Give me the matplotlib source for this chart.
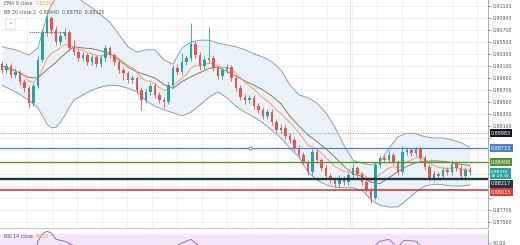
import numpy as np
import pandas as pd
import matplotlib
matplotlib.use("Agg")
import matplotlib.pyplot as plt
from matplotlib.transforms import blended_transform_factory

# velas: cierre, maximo, minimo (apertura = cierre anterior)
first_open = 0.9013
closes = [0.9003, 0.9010, 0.8995, 0.9000, 0.8983, 0.8973, 0.8948, 0.8977, 0.9020, 0.9065,
          0.9090, 0.9070, 0.9050, 0.9060, 0.9067, 0.9040, 0.9033, 0.9023, 0.9028, 0.9017,
          0.9025, 0.9013, 0.9023, 0.9040, 0.9028, 0.9017, 0.9003, 0.8998, 0.8987, 0.8990,
          0.8970, 0.8953, 0.8967, 0.8977, 0.8962, 0.8953, 0.8950, 0.8978, 0.9007, 0.9000,
          0.9017, 0.9023, 0.9047, 0.9028, 0.9010, 0.9020, 0.9023, 0.9007, 0.8993, 0.9003,
          0.9008, 0.8990, 0.8973, 0.8958, 0.8953, 0.8957, 0.8943, 0.8937, 0.8927, 0.8933,
          0.8917, 0.8903, 0.8907, 0.8893, 0.8887, 0.8873, 0.8862, 0.8850, 0.8833, 0.8867,
          0.8853, 0.8840, 0.8827, 0.8820, 0.8813, 0.8823, 0.8817, 0.8828, 0.8840, 0.8830,
          0.8817, 0.8803, 0.8790, 0.8845, 0.8857, 0.8853, 0.8862, 0.8850, 0.8833, 0.8867,
          0.8870, 0.8865, 0.8872, 0.8857, 0.8842, 0.8823, 0.8830, 0.8827, 0.8837, 0.8833,
          0.8847, 0.8840, 0.8827, 0.8837, 0.8833]
highs = [0.9018, 0.9015, 0.9015, 0.9006, 0.9004, 0.8988, 0.8977, 0.8981, 0.9026, 0.9072,
         0.9095, 0.9093, 0.9076, 0.9066, 0.9073, 0.9070, 0.9053, 0.9038, 0.9034, 0.9032,
         0.9030, 0.9029, 0.9028, 0.9045, 0.9044, 0.9032, 0.9021, 0.9008, 0.9002, 0.8995,
         0.8994, 0.8975, 0.8972, 0.8982, 0.8981, 0.8967, 0.8958, 0.8983, 0.9012, 0.9013,
         0.9032, 0.9028, 0.9082, 0.9052, 0.9033, 0.9026, 0.9075, 0.9028, 0.9012, 0.9008,
         0.9014, 0.9012, 0.8995, 0.8978, 0.8963, 0.8962, 0.8961, 0.8948, 0.8942, 0.8938,
         0.8938, 0.8921, 0.8913, 0.8911, 0.8898, 0.8891, 0.8878, 0.8866, 0.8854, 0.8873,
         0.8871, 0.8857, 0.8845, 0.8831, 0.8825, 0.8828, 0.8827, 0.8833, 0.8846, 0.8844,
         0.8834, 0.8821, 0.8807, 0.8850, 0.8862, 0.8862, 0.8870, 0.8866, 0.8854, 0.8877,
         0.8875, 0.8874, 0.8875, 0.8876, 0.8861, 0.8846, 0.8835, 0.8834, 0.8842, 0.8841,
         0.8853, 0.8851, 0.8845, 0.8842, 0.8841]
lows = [0.8998, 0.8998, 0.8990, 0.8990, 0.8978, 0.8967, 0.8940, 0.8944, 0.8974, 0.9016,
        0.9060, 0.9064, 0.9045, 0.9045, 0.9055, 0.9035, 0.9028, 0.9018, 0.9018, 0.9012,
        0.9012, 0.9008, 0.9008, 0.9018, 0.9023, 0.9012, 0.8998, 0.8987, 0.8982, 0.8982,
        0.8965, 0.8937, 0.8948, 0.8962, 0.8957, 0.8948, 0.8940, 0.8946, 0.8974, 0.8995,
        0.8995, 0.9012, 0.9018, 0.9023, 0.9004, 0.9005, 0.9015, 0.9002, 0.8988, 0.8988,
        0.8998, 0.8985, 0.8968, 0.8953, 0.8947, 0.8948, 0.8938, 0.8931, 0.8922, 0.8922,
        0.8912, 0.8898, 0.8898, 0.8888, 0.8882, 0.8868, 0.8857, 0.8845, 0.8828, 0.8829,
        0.8848, 0.8835, 0.8822, 0.8815, 0.8808, 0.8808, 0.8812, 0.8812, 0.8823, 0.8825,
        0.8812, 0.8798, 0.8782, 0.8786, 0.8840, 0.8848, 0.8848, 0.8845, 0.8828, 0.8829,
        0.8862, 0.8860, 0.8860, 0.8852, 0.8837, 0.8818, 0.8818, 0.8822, 0.8822, 0.8828,
        0.8828, 0.8835, 0.8822, 0.8822, 0.8828]

# bandas de bollinger
band_idx = [0, 3, 6, 8, 9, 10, 11, 12, 13, 14, 15, 16,
            18, 20, 22, 24, 26, 28, 30, 32, 34, 36, 38, 40, 42, 44, 46, 48, 50, 52, 54, 56,
            58, 60, 62, 64, 66, 68, 70, 72, 74, 76, 78, 80, 82, 84, 86, 88, 90, 92, 94, 96,
            98, 100, 102, 104]
band_upper = [0.9042, 0.9037, 0.9028, 0.9040, 0.9067, 0.9095, 0.9112, 0.9123, 0.9130, 0.9132, 0.9132, 0.9130,
              0.9117, 0.9107, 0.9095, 0.9083, 0.9062, 0.9042, 0.9033, 0.9037, 0.9037, 0.9020, 0.9013, 0.9040,
              0.9050, 0.9053, 0.9053, 0.9048, 0.9045, 0.9042, 0.9037, 0.9030, 0.9025, 0.9017, 0.9003, 0.8978,
              0.8962, 0.8957, 0.8948, 0.8932, 0.8908, 0.8878, 0.8853, 0.8848, 0.8845, 0.8850, 0.8873, 0.8892,
              0.8898, 0.8897, 0.8892, 0.8890, 0.8890, 0.8887, 0.8882, 0.8875]
band_mid = [0.9010, 0.9002, 0.8991, 0.8990, 0.8997, 0.9004, 0.9010, 0.9016, 0.9024, 0.9030, 0.9037, 0.9042,
            0.9040, 0.9039, 0.9035, 0.9031, 0.9020, 0.9008, 0.9000, 0.8995, 0.8990, 0.8979, 0.8973, 0.8984,
            0.8992, 0.8999, 0.9006, 0.9008, 0.9001, 0.8993, 0.8985, 0.8978, 0.8970, 0.8960, 0.8947, 0.8926,
            0.8910, 0.8895, 0.8884, 0.8872, 0.8858, 0.8843, 0.8830, 0.8826, 0.8816, 0.8814, 0.8824, 0.8834,
            0.8843, 0.8849, 0.8851, 0.8852, 0.8851, 0.8849, 0.8846, 0.8844]
band_lower = [0.8978, 0.8967, 0.8953, 0.8940, 0.8927, 0.8913, 0.8907, 0.8908, 0.8917, 0.8928, 0.8942, 0.8953,
              0.8962, 0.8970, 0.8975, 0.8978, 0.8977, 0.8973, 0.8967, 0.8952, 0.8943, 0.8937, 0.8932, 0.8927,
              0.8933, 0.8945, 0.8958, 0.8967, 0.8957, 0.8943, 0.8933, 0.8925, 0.8915, 0.8903, 0.8890, 0.8873,
              0.8858, 0.8833, 0.8820, 0.8812, 0.8808, 0.8807, 0.8807, 0.8803, 0.8787, 0.8778, 0.8775, 0.8775,
              0.8787, 0.8800, 0.8810, 0.8813, 0.8812, 0.8810, 0.8810, 0.8812]

rsi_idx = [0, 4, 7, 8, 9, 10, 11, 12, 14, 16, 18, 22, 30, 36, 38, 40, 42, 44, 48, 60,
           70, 80, 83, 84, 86, 88, 89, 90, 92, 94, 100, 102, 104]
rsi_val = [48, 40, 45, 62, 70, 73, 71, 64, 62, 57, 52, 52, 40, 40, 55, 60, 64, 56, 50, 35,
           38, 35, 58, 62, 64, 55, 62, 63, 62, 52, 55, 52, 46.23]

# niveles horizontales
dotted_level = 0.88983
blue_level = 0.88733
green_level = 0.88498
dark_level = 0.88217
red_level = 0.88033
old_level = 0.9067   # linea punteada roja arriba a la izquierda

price_ticks = [0.9110, 0.9090, 0.9070, 0.9050, 0.9030, 0.9010, 0.8990, 0.8970, 0.8950, 0.8930,
               0.8910, 0.8890, 0.8870, 0.8850, 0.8830, 0.8810, 0.8790, 0.8770, 0.8750]

UP = '#26a69a'
DOWN = '#ef5350'
GRIS = '#555555'
NARANJA = '#f59a4a'

W, H = 520, 245
fig = plt.figure(figsize=(W / 100, H / 100), dpi=100)
ax = fig.add_axes([0, 1 - 228 / H, 488 / W, 228 / H])
rax = fig.add_axes([0, 0, 488 / W, 15 / H])

n = len(closes)
idx = np.arange(n)
opens = [first_open] + closes[:-1]
o = np.array(opens)
c = np.array(closes)
colors = [UP if cc >= oo else DOWN for oo, cc in zip(o, c)]

# bandas
ax.fill_between(band_idx, band_lower, band_upper, color='#eaf2f8', lw=0, zorder=1)
ax.plot(band_idx, band_upper, color='#8aa2b4', lw=0.7, zorder=2)
ax.plot(band_idx, band_lower, color='#8aa2b4', lw=0.7, zorder=2)
ax.plot(band_idx, band_mid, color='#8c7b6e', lw=0.7, zorder=2)

ema = pd.Series(closes).ewm(span=9, adjust=False).mean()
ax.plot(idx, ema, color='#f5a06a', lw=0.7, zorder=3)

# velas
ax.vlines(idx, lows, highs, colors=colors, lw=0.6, zorder=4)
body = np.abs(c - o)
body[body < 0.00005] = 0.00005
ax.bar(idx, body, bottom=np.minimum(o, c), width=0.56, color=colors, lw=0, zorder=5)

# lineas horizontales
ax.axhline(dotted_level, color='#9aa0a6', lw=0.6, ls=(0, (1.5, 1.5)), zorder=3)
ax.axhline(blue_level, color='#4f7fc9', lw=0.9, zorder=6)
ax.axhline(green_level, color='#5e8f30', lw=1.0, zorder=6)
ax.axhline(dark_level, color='#1f3542', lw=1.7, zorder=6)
ax.axhline(red_level, color='#e0393b', lw=1.2, zorder=6)
ax.plot([6, 14], [old_level, old_level], color='#b5473f', lw=0.8, ls=(0, (1, 1)), zorder=6)
ax.plot([55.1], [blue_level], marker='o', ms=2.2, mfc='white', mec='#4f7fc9', mew=0.6, zorder=7)
ax.axvline(77.3, color='#b8bcc2', lw=0.5, ls=(0, (1.5, 1.5)), zorder=1)

ax.set_xlim(-0.444, 108)
ax.set_ylim(0.8740, 0.9120)
ax.set_xticks((np.arange(27, 488, 25) - 2) / 4.5)

# etiquetas de precio en el eje: (nivel, texto, color, desplazamiento en px hacia abajo)
boxes = [(dotted_level, '%.5f' % dotted_level, '#131722', 0),
         (blue_level, '%.5f' % blue_level, '#4f7fc9', 0),
         (green_level, '%.5f' % green_level, '#5e8f30', 0),
         (closes[-1], '%.5f\n18:28:36' % closes[-1], '#26a69a', 1.5),
         (dark_level, '%.5f' % dark_level, '#1f3542', 5.0),
         (red_level, '%.5f' % red_level, '#e0393b', 2.2)]

px_per_price = 228 / (0.9120 - 0.8740)
tick_txt = []
for p in price_ticks:
    tapado = any(abs((p - b[0]) * px_per_price + b[3]) < 7 for b in boxes)
    tick_txt.append('' if tapado else '%.5f' % p)
ax.set_yticks(price_ticks)
ax.set_yticklabels(tick_txt)
ax.yaxis.tick_right()
ax.tick_params(axis='y', labelsize=3.4, colors=GRIS, length=2, width=0.4, pad=1.5)
ax.tick_params(axis='x', length=0, labelbottom=False)
ax.grid(True, color='#eef0f3', lw=0.6, zorder=0)
ax.set_axisbelow(True)
for s in ['top', 'left']:
    ax.spines[s].set_visible(False)
ax.spines['right'].set_color('#9a9ea4')
ax.spines['right'].set_linewidth(0.6)
ax.spines['bottom'].set_color('#c6c8cc')
ax.spines['bottom'].set_linewidth(0.8)

tr = blended_transform_factory(ax.transAxes, ax.transData)
for nivel, txt, fc, dy in boxes:
    fs = 3.1 if '\n' in txt else 3.5
    ax.annotate(txt, xy=(1.006, nivel), xycoords=tr, xytext=(0, -dy * 0.72), textcoords='offset points',
                fontsize=fs, color='white', ha='left', va='center', annotation_clip=False,
                zorder=10, linespacing=1.0,
                bbox=dict(boxstyle='square,pad=0.28', fc=fc, ec='none'))

# leyenda superior
t1 = ax.text(0.008, 0.997, 'EMA 9 close', transform=ax.transAxes, fontsize=3.4, color=GRIS,
             va='top', ha='left')
ax.annotate('%.5f' % ema.iloc[-1], xy=(1, 0), xycoords=t1, xytext=(2, 0), textcoords='offset points',
            fontsize=3.4, color=NARANJA, va='bottom', ha='left')
ax.text(0.008, 0.957, 'BB 20 close 2  %.5f  %.5f  %.5f' % (band_mid[-1], band_upper[-1], band_lower[-1]),
        transform=ax.transAxes, fontsize=3.4, color=GRIS, va='top', ha='left')
ax.text(0.017, 0.905, '^', transform=ax.transAxes, fontsize=3.4, color=GRIS, va='top', ha='left',
        bbox=dict(boxstyle='square,pad=0.6', fc='white', ec='#d6d8dc', lw=0.4))

# panel RSI
rax.axhspan(30, 70, color='#f4e6f8', lw=0, zorder=0)
rax.plot(rsi_idx, rsi_val, color='#9b6bd6', lw=0.7, zorder=2)
rax.set_xlim(-0.444, 108)
rax.set_ylim(57.8, 74.4)
rax.set_xticks([])
rax.set_yticks([60])
rax.set_yticklabels(['60.00'])
rax.yaxis.tick_right()
rax.tick_params(axis='y', labelsize=3.4, colors=GRIS, length=2, width=0.4, pad=1.5)
for s in ['top', 'left', 'bottom']:
    rax.spines[s].set_visible(False)
rax.spines['right'].set_color('#9a9ea4')
rax.spines['right'].set_linewidth(0.6)
t2 = rax.text(0.008, 0.6, 'RSI 14 close', transform=rax.transAxes, fontsize=3.4, color=GRIS,
              va='center', ha='left')
rax.annotate('%.2f' % rsi_val[-1], xy=(1, 0.5), xycoords=t2, xytext=(2, 0), textcoords='offset points',
             fontsize=3.4, color=NARANJA, va='center', ha='left')

fig.savefig('out.png', dpi=100)
